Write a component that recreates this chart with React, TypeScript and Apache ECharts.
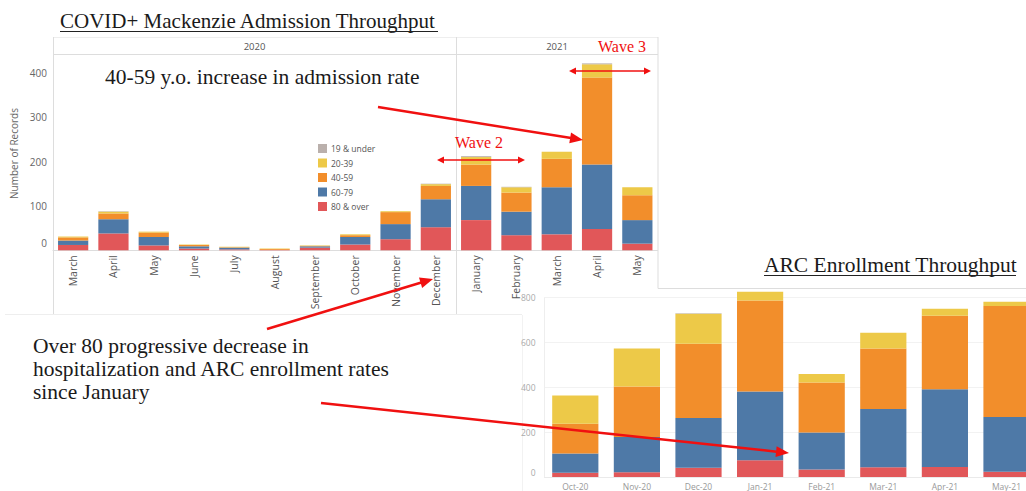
import React, { useEffect, useRef } from 'react';
import * as echarts from 'echarts';

// ---------- data ----------
const admMonths = ['March', 'April', 'May', 'June', 'July', 'August', 'September', 'October', 'November', 'December', 'January', 'February', 'March', 'April', 'May'];
const admYears = ['2020', '2021'];
const adm80 = [12, 38, 11, 4, 2, 1, 6, 13, 25, 52, 68, 34, 36, 48, 15];
const adm6079 = [10, 32, 19, 5, 4, 0, 3, 17, 34, 63, 77, 53, 106, 145, 53];
const adm4059 = [7, 13, 10, 3, 1, 2, 1, 4, 27, 30, 48, 43, 64, 196, 56];
const adm2039 = [2, 4, 2, 1, 1, 1, 1, 2, 2, 4, 17, 12, 16, 30, 18];
const admU19 = [0, 1, 0, 0, 0, 0, 0, 0, 0, 1, 2, 1, 0, 2, 0];

const arcMonths = ['Oct-20', 'Nov-20', 'Dec-20', 'Jan-21', 'Feb-21', 'Mar-21', 'Apr-21', 'May-21'];
const arc80 = [19, 21, 41, 75, 33, 44, 45, 23];
const arc6079 = [86, 158, 222, 307, 166, 259, 347, 245];
const arc4059 = [133, 225, 331, 405, 223, 270, 328, 495];
const arc2039 = [126, 169, 134, 40, 38, 71, 31, 19];
const arcU19 = [0, 0, 3, 0, 0, 0, 0, 0];

const groupNames = ['80 & over', '60-79', '40-59', '20-39', '19 & under'];
const legendOrder = ['19 & under', '20-39', '40-59', '60-79', '80 & over'];
const groupColors = ['#e15759', '#4e79a7', '#f28e2b', '#edc948', '#bab0ac'];

const titleLeft = 'COVID+ Mackenzie Admission Throughput';
const titleRight = 'ARC Enrollment Throughput';
const note1 = '40-59 y.o. increase in admission rate';
const note2 = ['Over 80 progressive decrease in', 'hospitalization and ARC enrollment rates', 'since January'];

// ---------- helpers ----------
const RED = '#f01010';
const SERIF = '"Liberation Serif", "DejaVu Serif", serif';
const SANS = '"Open Sans", "Noto Sans", sans-serif';

function arrow(x1: number, y1: number, x2: number, y2: number, w: number, len: number, half: number, both = false) {
  const a = Math.atan2(y2 - y1, x2 - x1);
  const c = Math.cos(a), s = Math.sin(a);
  const els: any[] = [];
  const head = (tx: number, ty: number, dir: number) => {
    const bx = tx - dir * c * len, by = ty - dir * s * len;
    return {
      type: 'polygon', z: 100, silent: true,
      shape: { points: [[tx, ty], [bx - s * half, by + c * half], [bx + s * half, by - c * half]] },
      style: { fill: RED },
    };
  };
  const sx = both ? x1 + c * len * 0.8 : x1;
  const sy = both ? y1 + s * len * 0.8 : y1;
  els.push({
    type: 'line', z: 100, silent: true,
    shape: { x1: sx, y1: sy, x2: x2 - c * len * 0.8, y2: y2 - s * len * 0.8 },
    style: { stroke: RED, lineWidth: w },
  });
  els.push(head(x2, y2, 1));
  if (both) els.push(head(x1, y1, -1));
  return els;
}

function txt(text: string, x: number, y: number, size: number, fill: string, family: string, align = 'left', extra: any = {}) {
  return {
    type: 'text', x, y, z: 100, silent: true, ...extra,
    style: {
      text, fill, fontSize: size, fontFamily: family,
      textAlign: align, textVerticalAlign: 'middle', align, verticalAlign: 'middle',
    },
  };
}

function ln(x1: number, y1: number, x2: number, y2: number, color: string, w = 1) {
  return { type: 'line', z: 0, silent: true, shape: { x1, y1, x2, y2 }, style: { stroke: color, lineWidth: w } };
}

export default function App() {
  const ref = useRef<HTMLDivElement>(null);
  useEffect(() => {
    const chart = echarts.init(ref.current!, null, { renderer: 'svg' });
    const admData = [adm80, adm6079, adm4059, adm2039, admU19];
    const arcData = [arc80, arc6079, arc4059, arc2039, arcU19];

    const series: any[] = [];
    groupNames.forEach((name, i) => {
      series.push({
        type: 'bar', name, stack: 'adm', xAxisIndex: 0, yAxisIndex: 0,
        data: admData[i], barWidth: '75%', clip: false,
        itemStyle: { color: groupColors[i] },
      });
    });
    groupNames.forEach((name, i) => {
      series.push({
        type: 'bar', name, stack: 'arc', xAxisIndex: 1, yAxisIndex: 1,
        data: arcData[i], barWidth: '75%', clip: false,
        itemStyle: { color: groupColors[i] },
      });
    });

    const graphics: any[] = [
      // left chart frame
      ln(53, 37.5, 658, 37.5, '#eeeeee'),
      ln(53, 54.5, 658, 54.5, '#dddddd'),
      ln(53.5, 37, 53.5, 314, '#dddddd'),
      ln(456.5, 37, 456.5, 314, '#dddddd'),
      ln(658, 37, 658, 288.5, '#dddddd'),
      ln(5, 314.5, 522, 314.5, '#eeeeee'),
      ln(658, 288.5, 1040, 288.5, '#dddddd'),
      ln(522.5, 315, 522.5, 491, '#f2f2f2'),
      txt(admYears[0], 254.5, 46, 9.5, '#555', SANS, 'center'),
      txt(admYears[1], 557, 46, 9.5, '#555', SANS, 'center'),
      txt('Number of Records', 14, 153.5, 10, '#666', SANS, 'center', { rotation: Math.PI / 2 }),
      // titles
      txt(titleLeft, 60, 21, 21, '#1a1a1a', SERIF),
      { type: 'line', z: 100, silent: true, shape: { x1: 60, y1: 31.5, x2: 438, y2: 31.5 }, style: { stroke: '#222', lineWidth: 1 } },
      txt(titleRight, 764, 265, 21.5, '#1a1a1a', SERIF),
      { type: 'line', z: 100, silent: true, shape: { x1: 764, y1: 275.5, x2: 1016, y2: 275.5 }, style: { stroke: '#222', lineWidth: 1 } },
      // annotations
      txt(note1, 105, 77, 21.5, '#1a1a1a', SERIF),
      txt(note2[0], 33, 346, 21.5, '#1a1a1a', SERIF),
      txt(note2[1], 33, 369, 21.5, '#1a1a1a', SERIF),
      txt(note2[2], 33, 392, 21.5, '#1a1a1a', SERIF),
      txt('Wave 2', 455, 142, 16, RED, SERIF),
      txt('Wave 3', 598, 46, 16, RED, SERIF),
      ...arrow(378, 107, 583, 140, 2.5, 13, 5.5),
      ...arrow(267, 329, 433, 279, 2.5, 13, 5.5),
      ...arrow(321, 403, 789, 453, 2.5, 13, 5.5),
      ...arrow(437, 160, 525, 160, 1.3, 7, 3.5, true),
      ...arrow(569, 71, 651, 71, 1.3, 7, 3.5, true),
    ];

    chart.setOption({
      animation: false,
      backgroundColor: '#ffffff',
      grid: [
        { left: 53, top: 72.7, width: 604.5, height: 177.6 },
        { left: 544.5, top: 297.7, width: 492.8, height: 179.8 },
      ],
      legend: {
        data: legendOrder, orient: 'vertical', left: 313, top: 139,
        itemWidth: 9, itemHeight: 9, itemGap: 5.5, icon: 'rect', selectedMode: false,
        textStyle: { fontSize: 8.5, color: '#555', fontFamily: SANS, padding: [0, 0, 0, -1] },
      },
      xAxis: [
        {
          type: 'category', gridIndex: 0, data: admMonths,
          axisLine: { lineStyle: { color: '#dddddd' } }, axisTick: { show: false },
          axisLabel: { rotate: 90, interval: 0, margin: 5, fontSize: 10.5, color: '#555', fontFamily: SANS },
        },
        {
          type: 'category', gridIndex: 1, data: arcMonths,
          axisLine: { lineStyle: { color: '#eaeaea' } }, axisTick: { show: false },
          axisLabel: { interval: 0, margin: 5, fontSize: 8.5, color: '#999', fontFamily: SANS },
        },
      ],
      yAxis: [
        {
          type: 'value', gridIndex: 0, min: 0, max: 400, interval: 100,
          axisLine: { show: false }, axisTick: { show: false }, splitLine: { show: false },
          axisLabel: {
            margin: 6, fontSize: 10, color: '#666', fontFamily: SANS,
            formatter: (v: number) => (v === 0 ? '{z|0}' : String(v)),
            rich: { z: { fontSize: 10, color: '#666', fontFamily: SANS, padding: [0, 0, 14, 0] } },
          },
        },
        {
          type: 'value', gridIndex: 1, min: 0, max: 800, interval: 200,
          axisLine: { show: true, lineStyle: { color: '#eeeeee' } }, axisTick: { show: false },
          splitLine: { lineStyle: { color: '#f2f2f2' } },
          axisLabel: {
            margin: 9, fontSize: 8.5, color: '#aaa', fontFamily: SANS,
            formatter: (v: number) => (v === 0 ? '{z|0}' : String(v)),
            rich: { z: { fontSize: 8.5, color: '#aaa', fontFamily: SANS, padding: [0, 0, 10, 0] } },
          },
        },
      ],
      series,
      graphic: { elements: graphics },
    });
    return () => chart.dispose();
  }, []);
  return (
    <div
      ref={ref}
      style={{ position: 'fixed', left: 0, top: 0, width: 1040, height: 491, background: '#fff' }}
    />
  );
}
